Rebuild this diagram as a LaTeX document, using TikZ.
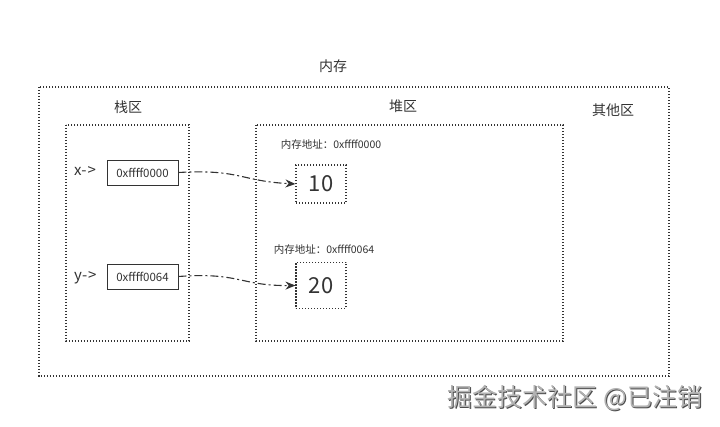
\documentclass[tikz,border=0pt]{standalone}
\usepackage{fontspec}
\setmainfont{Noto Sans CJK SC}
\usetikzlibrary{arrows.meta}
\definecolor{ink}{HTML}{333333}
\tikzset{
  region/.style={draw=ink, line width=1.1pt, dash pattern=on 1.1pt off 1.9pt},
  cellbox/.style={draw=ink, line width=0.9pt, minimum width=71pt, minimum height=25pt, font=\fontsize{11.5}{13}\selectfont, text=ink, inner sep=0pt},
  valbox/.style={draw=ink, line width=1.1pt, dash pattern=on 1.1pt off 1.9pt, minimum width=50pt, minimum height=40pt, font=\fontsize{22}{26}\selectfont, text=ink, inner sep=0pt},
  lbl/.style={text=ink, font=\fontsize{14}{16}\selectfont, inner sep=0pt},
  ptrlbl/.style={text=ink, font=\fontsize{15}{17}\selectfont, inner sep=0pt},
  addr/.style={text=ink, font=\fontsize{10.5}{12}\selectfont, inner sep=0pt},
  ptr/.style={draw=ink, line width=1.1pt, dash pattern=on 8pt off 3pt on 2pt off 3pt, -{Stealth[length=10pt,width=8pt]}},
  wmark/.style={font=\fontsize{25}{29}\selectfont, inner sep=0pt},
}
\begin{document}
\begin{tikzpicture}[x=1pt,y=-1pt]
\useasboundingbox (0,0) rectangle (720,427);
\fill[white] (0,0) rectangle (720,427);
% regions
\draw[region] (39,87) rectangle (669,376);
\draw[region] (66,125) rectangle (189,341);
\draw[region] (256,125) rectangle (563,341);
% region labels
\node[lbl] (mem) at (333,66) {内存};
\node[lbl] (stack) at (128,107) {栈区};
\node[lbl] (heap) at (403,106) {堆区};
\node[lbl] (other) at (613,110) {其他区};
% stack cells
\node[cellbox] (xb) at (142.5,172.5) {0xffff0000};
\node[cellbox] (yb) at (142.5,276.5) {0xffff0064};
\node[ptrlbl, anchor=west] (xl) at (74,171) {x-\kern1pt>};
\node[ptrlbl, anchor=west] (yl) at (74,278) {y-\kern1pt>};
% heap values
\node[addr] (a1) at (331,145) {内存地址：0xffff0000};
\node[addr] (a2) at (324,250) {内存地址：0xffff0064};
\node[valbox, minimum height=38pt] (v1) at (321,184) {10};
\node[valbox, minimum height=46pt] (v2) at (321,285.5) {20};
% pointers
\draw[ptr] (xb.east) .. controls (240,169) and (240,181) .. (v1.west);
\draw[ptr] (yb.east) .. controls (240,272) and (240,286) .. (v2.west);
% watermark
\node[wmark, text=black!70] (wm0) at (576,399) {掘金技术社区 @已注销};
\node[wmark, text=black!30] (wm) at (575,398) {掘金技术社区 @已注销};
\end{tikzpicture}
\end{document}
